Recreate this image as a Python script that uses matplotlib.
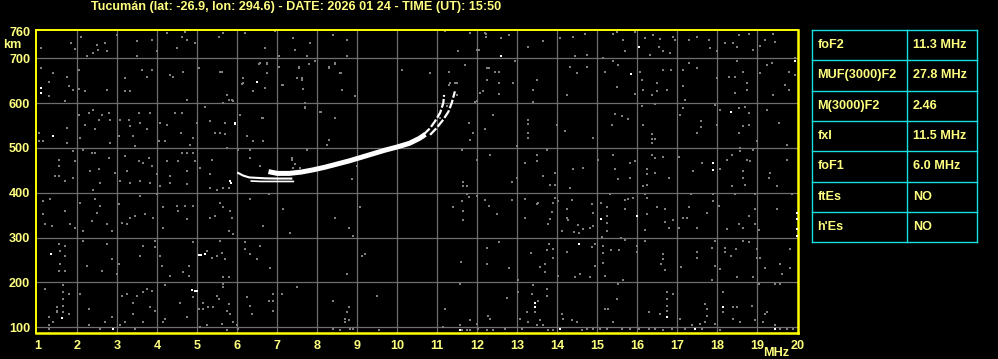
import numpy as np
import matplotlib
matplotlib.use("Agg")
import matplotlib.pyplot as plt

title = "Tucumán (lat: -26.9, lon: 294.6) - DATE: 2026 01 24 - TIME (UT): 15:50"
freq_ticks = list(range(1, 21))
height_ticks = [100, 200, 300, 400, 500, 600, 700, 760]

param_names = ["foF2", "MUF(3000)F2", "M(3000)F2", "fxI", "foF1", "ftEs", "h'Es"]
param_values = ["11.3 MHz", "27.8 MHz", "2.46", "11.5 MHz", "6.0 MHz", "NO", "NO"]

# F-layer traces (MHz, km)
o_main_f = [6.78, 7.0, 7.3, 7.6, 7.9, 8.2, 8.5, 8.8, 9.1, 9.4, 9.7, 10.0, 10.3, 10.55, 10.7]
o_main_h = [447, 443, 443, 446, 451, 457, 464, 471, 479, 487, 495, 502, 510, 521, 530]
o_tail_f = [10.65, 10.82, 10.94, 11.07, 11.15, 11.17]
o_tail_h = [529, 544, 559, 578, 600, 618]
x_tail_f = [10.82, 10.98, 11.15, 11.28, 11.36, 11.44]
x_tail_h = [529, 544, 563, 581, 600, 626]
o_low_f = [6.02, 6.15, 6.3, 6.5, 6.7, 7.0, 7.35]
o_low_h = [444, 438, 434, 433, 432, 431.5, 431.5]
x_low_f = [6.35, 6.6, 6.9, 7.2, 7.4]
x_low_h = [426, 425, 425, 425, 425]

noise_white = [
    (1.09, 633), (1.09, 622), (6.48, 648), (12.6, 704), (16.03, 726), (15.85, 665),
    (19.95, 693), (18.34, 580), (1.38, 526), (5.94, 554), (5.95, 555), (5.82, 426),
    (5.83, 422), (17.89, 467), (17.89, 450), (15.09, 342), (15.99, 348), (19.99, 355),
    (19.99, 341), (19.99, 318), (19.99, 304), (14.55, 285), (1.33, 263), (5.03, 261),
    (5.1, 260), (5.2, 263), (4.86, 184), (4.95, 181), (5.0, 181), (1.63, 121),
    (2.88, 96), (13.45, 155), (13.45, 144), (14.07, 96), (16.74, 122), (17.43, 96),
    (18.14, 144), (19.45, 96), (11.57, 93),
]

noise_grey = [
    (1.08, 722), (1.09, 678), (1.3, 648), (1.3, 616), (1.38, 667), (1.73, 658),
    (1.78, 638), (1.83, 735), (1.94, 720), (1.88, 630), (2.04, 674), (2.04, 631),
    (2.08, 748), (2.19, 626), (2.23, 704), (2.38, 711), (2.48, 730), (2.51, 718),
    (2.69, 735), (2.73, 715), (2.73, 630), (2.98, 752), (3.19, 655), (3.19, 626),
    (3.32, 626), (3.48, 739), (3.48, 704), (3.61, 674), (3.73, 659), (3.86, 741),
    (3.86, 674), (3.98, 715), (4.23, 756), (4.32, 663), (4.4, 659), (4.48, 722),
    (4.61, 748), (4.65, 670), (4.69, 759), (4.73, 741), (4.94, 733), (4.73, 607),
    (5.03, 678), (5.53, 748), (5.63, 756), (5.57, 670), (5.78, 607), (5.86, 607),
    (6.19, 757), (6.15, 655), (6.15, 645), (6.69, 722), (6.57, 689), (6.73, 689),
    (6.73, 667), (6.69, 633), (6.94, 761), (7.03, 704), (7.11, 641), (7.4, 744),
    (7.44, 718), (7.53, 678), (7.61, 655), (7.73, 704), (7.82, 735), (7.94, 693),
    (8.07, 581), (8.28, 678), (8.4, 752), (8.44, 689), (8.57, 667), (8.73, 741),
    (8.73, 704), (8.61, 630), (8.94, 615), (11.19, 761), (11.28, 670), (11.32, 644),
    (11.48, 644), (11.52, 715), (11.82, 756), (11.98, 718), (12.07, 622), (12.19, 756),
    (12.23, 652), (12.23, 678), (12.44, 670),
    (6.53, 687), (6.74, 687), (7.03, 681), (7.14, 641), (7.55, 680), (7.64, 631),
    (7.8, 687), (7.95, 693), (8.3, 680), (8.45, 687), (8.59, 667), (8.95, 615),
    (7.49, 655), (7.61, 652), (6.15, 655), (6.11, 643), (6.4, 626), (6.7, 633),
    (5.9, 604), (7.7, 600), (7.7, 589), (8.07, 581), (8.45, 567), (6.65, 567),
    (5.7, 555), (6.24, 526), (6.4, 515), (6.65, 515), (8.28, 518), (7.75, 496),
    (7.36, 478), (7.4, 455), (7.57, 455), (8.86, 430), (8.99, 459), (10.11, 674),
    (10.82, 667), (11.28, 670), (11.45, 644), (11.7, 685), (11.49, 618), (11.28, 641),
    (11.24, 593), (11.07, 567), (11.78, 555), (11.9, 533), (11.82, 518), (11.61, 496),
    (11.99, 474), (11.65, 415), (11.74, 396), (11.99, 604), (5.65, 600), (5.74, 618),
    (5.61, 670), (5.7, 530),
    (12.22, 755), (12.22, 748), (12.6, 744), (12.03, 718), (12.78, 752), (12.95, 693),
    (12.53, 670), (12.28, 678), (12.24, 652), (12.55, 644), (12.9, 644), (12.15, 626),
    (12.55, 620), (11.95, 602), (12.4, 574), (12.2, 541), (11.9, 533), (12.99, 504),
    (13.28, 726), (13.65, 738), (14.07, 746), (14.4, 748), (14.7, 755), (14.74, 707),
    (14.45, 704), (14.74, 681), (14.32, 681), (14.49, 667), (13.49, 652), (13.39, 630),
    (14.24, 617), (13.4, 602), (13.28, 563), (13.28, 554), (14.0, 552), (14.2, 537),
    (13.28, 533), (13.28, 522), (13.74, 496), (14.9, 522), (15.14, 701), (15.4, 753),
    (15.49, 759), (15.65, 741), (15.7, 716), (15.95, 758), (15.53, 685), (15.2, 670),
    (15.4, 693), (16.07, 670), (16.11, 652), (15.49, 635), (15.95, 621), (16.15, 630),
    (16.38, 619), (16.49, 644), (16.49, 626), (16.74, 630), (16.11, 594), (16.45, 598),
    (15.45, 576), (15.62, 570), (15.78, 565), (15.36, 552), (16.15, 552), (16.36, 530),
    (16.36, 519), (16.45, 519), (16.36, 511), (16.2, 744), (16.39, 752), (16.57, 743),
    (16.53, 726), (16.9, 748), (16.94, 741), (16.65, 715), (16.82, 711), (16.32, 707),
    (17.28, 741), (17.49, 748), (17.78, 741), (17.82, 722), (17.99, 715), (18.2, 733),
    (18.4, 733), (18.49, 726), (18.53, 752), (18.78, 755), (18.9, 718), (19.07, 728),
    (19.2, 741), (19.4, 755), (19.44, 737), (19.95, 700), (17.28, 689), (17.49, 679),
    (17.15, 673), (16.84, 673), (16.65, 674), (17.15, 637), (17.19, 607), (17.99, 656),
    (18.3, 657), (18.44, 657), (18.49, 693), (18.65, 670), (18.74, 644), (18.74, 630),
    (18.44, 622), (19.07, 667), (19.24, 685), (19.36, 689), (19.78, 670), (19.7, 641),
    (19.78, 630), (19.4, 617), (19.95, 663), (17.95, 596), (18.07, 585), (18.53, 590),
    (18.7, 592), (18.78, 578), (19.24, 585), (17.15, 590), (17.07, 574), (17.59, 559),
    (17.59, 546), (17.49, 533), (17.99, 552), (18.78, 552), (18.65, 548), (18.53, 533),
    (19.0, 515), (19.53, 555), (19.74, 507), (18.57, 500), (18.9, 496),
    (11.64, 424), (11.74, 415), (11.99, 474), (12.32, 483), (12.86, 424), (12.99, 433),
    (13.2, 467), (13.49, 483), (13.49, 470), (13.65, 438), (13.95, 443), (13.82, 418),
    (13.95, 418), (14.32, 411), (14.4, 452), (14.65, 455), (15.03, 474), (15.4, 485),
    (15.45, 452), (15.53, 430), (15.82, 467), (15.95, 470), (15.82, 433), (16.24, 452),
    (16.24, 441), (16.45, 444), (16.36, 485), (16.45, 478), (16.65, 480), (16.78, 433),
    (17.03, 480), (16.24, 418), (16.15, 415), (17.4, 448), (17.61, 467), (18.07, 452),
    (18.24, 474), (18.36, 483), (18.57, 493), (18.74, 474), (18.82, 470), (18.65, 448),
    (18.65, 433), (18.7, 418), (18.36, 415), (19.32, 443), (19.28, 433), (19.49, 415),
    (19.74, 474), (11.4, 367), (11.61, 381), (11.65, 359), (11.65, 339), (11.8, 391),
    (11.99, 392), (12.2, 384), (12.3, 370), (12.5, 352), (12.86, 384), (13.2, 385),
    (13.2, 344), (13.49, 374), (13.53, 378), (13.9, 378), (13.86, 357), (13.82, 341),
    (13.78, 330), (13.95, 389), (14.03, 381), (14.24, 364), (14.24, 344), (14.28, 339),
    (14.11, 315), (14.42, 312), (14.53, 327), (14.55, 311), (14.65, 318), (14.36, 384),
    (14.82, 321), (14.89, 355), (14.86, 374), (14.9, 326), (15.09, 378), (15.24, 367),
    (15.24, 348), (15.24, 333), (15.24, 315), (15.11, 302), (15.32, 396), (15.7, 384),
    (15.78, 385), (15.7, 363), (15.89, 389), (16.24, 389), (16.2, 396), (16.24, 352),
    (16.2, 317), (16.49, 367), (16.7, 363), (16.7, 335), (16.78, 321), (16.9, 339),
    (17.03, 321), (17.15, 344), (17.24, 344), (17.28, 367), (17.34, 396), (17.49, 321),
    (17.74, 355), (17.89, 381), (17.89, 396), (18.03, 370), (18.24, 318), (18.45, 396),
    (18.53, 330), (18.65, 321), (18.78, 348), (18.95, 363), (18.95, 330), (19.03, 317),
    (18.95, 396), (19.49, 364), (19.86, 396),
    (12.24, 276), (12.53, 290), (11.59, 246), (12.24, 241), (12.78, 233), (13.03, 206),
    (13.34, 265), (13.57, 235), (13.7, 222), (13.7, 241), (13.74, 273), (13.9, 274),
    (13.9, 255), (13.8, 285), (14.03, 215), (14.24, 268), (14.45, 211), (14.57, 218),
    (14.82, 211), (14.95, 285), (14.95, 237), (14.86, 278), (15.14, 281), (15.14, 265),
    (15.14, 244), (15.2, 215), (15.34, 273), (15.55, 273), (15.65, 206), (15.59, 298),
    (15.7, 295), (15.99, 280), (15.99, 268), (16.2, 292), (16.65, 263), (16.65, 252),
    (16.7, 228), (16.6, 241), (17.09, 235), (17.49, 267), (17.49, 255), (17.86, 276),
    (17.95, 237), (17.95, 293), (18.07, 230), (18.2, 276), (18.2, 268), (18.34, 259),
    (18.47, 274), (18.65, 293), (18.78, 290), (18.99, 274), (18.99, 255), (19.07, 255),
    (19.2, 233), (19.57, 241), (19.61, 218), (19.82, 274), (19.82, 233), (18.9, 211),
    (18.49, 213), (17.86, 206),
    (1.69, 604), (2.03, 574), (2.28, 578), (2.4, 585), (2.53, 563), (2.61, 574),
    (2.78, 578), (2.82, 563), (2.19, 552), (1.73, 544), (1.03, 533), (1.03, 515),
    (1.15, 515), (1.73, 511), (2.07, 522), (2.44, 541), (2.82, 511), (3.07, 563),
    (3.28, 563), (3.32, 548), (3.53, 578), (3.57, 555), (3.82, 578), (3.73, 541),
    (3.4, 526), (3.03, 526), (4.03, 515), (4.19, 515), (4.07, 555), (4.23, 552),
    (4.44, 578), (4.61, 578), (4.59, 533), (4.9, 522), (4.82, 507), (4.98, 555),
    (5.19, 592), (5.32, 559), (5.44, 533), (5.57, 533), (5.69, 555), (6.07, 574),
    (6.23, 526), (6.4, 515), (6.61, 567), (7.69, 592), (8.09, 581), (8.44, 567),
    (8.23, 506), (7.73, 496), (1.9, 492), (1.94, 470), (2.15, 496), (2.36, 489),
    (2.44, 489), (2.32, 448), (2.53, 452), (2.78, 478), (2.94, 444), (1.53, 474),
    (1.53, 459), (1.53, 437), (1.44, 437), (1.69, 426), (1.9, 433), (2.4, 407),
    (2.57, 422), (3.07, 426), (3.23, 448), (3.19, 481), (3.44, 504), (3.53, 470),
    (3.65, 467), (3.78, 478), (3.86, 459), (3.32, 422), (3.57, 426), (3.82, 422),
    (3.98, 441), (4.07, 415), (4.23, 470), (4.32, 437), (4.32, 422), (4.52, 470),
    (4.61, 489), (4.73, 489), (4.9, 489), (4.94, 470), (4.73, 448), (4.73, 419),
    (5.07, 455), (5.32, 441), (5.36, 474), (5.32, 411), (5.49, 407), (5.65, 411),
    (5.78, 411), (5.73, 500), (6.02, 496), (6.32, 496), (6.57, 459), (6.32, 478),
    (7.36, 474), (7.44, 463), (8.86, 430),
    (1.15, 381), (1.32, 385), (1.15, 352), (1.19, 330), (1.36, 326), (1.69, 359),
    (1.82, 330), (1.94, 322), (2.07, 378), (2.15, 315), (2.36, 337), (2.44, 385),
    (2.48, 355), (2.57, 370), (2.73, 330), (2.86, 315), (3.03, 374), (3.11, 333),
    (3.23, 330), (3.32, 344), (3.44, 348), (3.57, 392), (3.69, 352), (3.9, 344),
    (3.98, 396), (4.15, 367), (4.15, 322), (4.48, 370), (4.52, 359), (4.69, 370),
    (4.73, 341), (4.9, 370), (5.32, 344), (5.44, 348), (5.57, 378), (5.65, 367),
    (5.82, 359), (5.86, 344), (5.78, 315), (5.9, 307), (6.32, 385), (6.65, 326),
    (6.78, 396), (7.15, 363), (7.32, 311), (8.44, 344), (8.78, 322), (9.07, 367),
    (8.9, 304),
    (1.53, 285), (1.57, 270), (1.69, 281), (1.69, 259), (1.57, 241), (1.69, 226),
    (1.53, 226), (2.15, 292), (2.23, 237), (2.61, 226), (2.73, 285), (2.86, 252),
    (3.03, 241), (2.98, 218), (3.65, 281), (3.57, 259), (3.94, 292), (3.94, 278),
    (4.07, 259), (4.11, 237), (4.32, 215), (4.65, 222), (4.78, 215), (4.9, 289),
    (4.78, 237), (5.23, 270), (5.49, 259), (5.57, 292), (5.61, 266), (5.69, 252),
    (5.36, 255), (5.65, 211), (5.78, 211), (6.19, 289), (6.19, 274), (6.32, 263),
    (6.57, 281), (6.49, 252), (6.82, 233), (7.48, 189), (8.74, 218), (9.11, 259),
    (9.19, 263),
    (1.19, 185), (1.48, 144), (1.48, 137), (1.48, 133), (1.65, 193), (1.65, 178),
    (1.65, 163), (1.65, 148), (1.65, 133), (1.78, 174), (1.78, 130), (2.07, 174),
    (2.28, 141), (2.28, 104), (1.3, 122), (1.28, 104), (1.28, 96), (1.4, 111),
    (2.69, 111), (2.57, 96), (2.86, 122), (3.07, 104), (3.19, 111), (3.11, 170),
    (3.23, 174), (3.4, 155), (3.48, 170), (3.65, 178), (3.73, 185), (3.86, 181),
    (3.44, 96), (3.65, 111), (3.4, 130), (3.94, 137), (3.82, 144), (4.19, 193),
    (4.15, 111), (4.19, 118), (4.57, 155), (4.73, 122), (4.9, 167), (5.03, 141),
    (5.15, 155), (5.15, 141), (5.27, 144), (5.4, 144), (5.48, 170), (5.53, 163),
    (5.65, 196), (5.65, 189), (5.78, 152), (5.73, 137), (5.82, 130), (5.61, 107),
    (5.9, 111), (5.98, 104), (5.07, 100), (5.23, 104), (5.73, 93), (6.02, 96),
    (6.23, 167), (6.32, 148), (6.36, 130), (6.78, 159), (6.9, 174), (6.9, 159),
    (6.9, 137), (7.11, 174), (7.48, 189), (8.4, 159), (8.4, 96), (8.57, 93),
    (8.73, 133), (8.69, 118), (8.78, 144), (8.78, 115), (8.69, 111), (8.82, 96),
    (8.9, 96), (9.48, 170), (9.53, 93), (11.15, 100), (11.19, 141), (11.57, 196),
    (11.57, 104), (11.61, 93), (11.73, 93), (11.82, 115), (11.82, 93), (11.98, 107),
    (12.02, 96), (12.27, 126), (12.32, 118), (12.23, 93), (12.4, 93),
    (12.74, 164), (12.7, 96), (13.03, 178), (13.07, 118), (13.11, 96), (13.4, 193),
    (13.36, 174), (13.45, 133), (13.53, 159), (13.57, 115), (13.65, 104), (13.74, 185),
    (13.74, 170), (13.78, 93), (13.49, 104), (13.28, 111), (13.24, 133), (13.9, 93),
    (14.11, 130), (14.15, 118), (14.36, 115), (14.49, 111), (14.61, 93), (14.74, 96),
    (14.9, 96), (15.07, 96), (15.24, 96), (15.2, 141), (15.28, 141), (15.49, 163),
    (15.4, 111), (15.53, 196), (15.61, 96), (15.82, 96), (16.03, 96), (16.28, 133),
    (16.28, 96), (16.45, 96), (16.57, 130), (16.65, 93), (16.74, 178), (16.74, 163),
    (16.74, 148), (16.74, 137), (16.86, 96), (16.9, 174), (17.07, 118), (17.2, 96),
    (17.36, 104), (17.61, 96), (17.7, 152), (17.74, 141), (17.74, 126), (17.7, 111),
    (17.57, 107), (17.95, 107), (18.07, 93), (18.14, 178), (18.14, 133), (18.4, 144),
    (18.49, 144), (18.4, 118), (18.57, 111), (18.86, 148), (18.95, 115), (19.03, 196),
    (19.15, 111), (19.2, 130), (19.24, 133), (19.45, 196), (19.45, 104), (19.57, 196),
    (19.57, 96), (19.74, 96), (19.9, 96),
]

fig = plt.figure(figsize=(9.98, 3.59), dpi=100, facecolor="black")
ax = fig.add_axes([35.7 / 998, 26 / 359, 762 / 998, 303.5 / 359], facecolor="black")

txt_color = "#ffff80"
font = "Liberation Sans"
fsize = 9.1

ax.set_xlim(0.96, 20.01)
ax.set_ylim(87, 764)
ax.set_xticks(freq_ticks)
ax.set_yticks(height_ticks)
ax.set_xticklabels([str(t) for t in freq_ticks])
ax.set_yticklabels([str(t) for t in height_ticks])
for lab in ax.get_xticklabels() + ax.get_yticklabels():
    lab.set_fontfamily(font)
    lab.set_fontweight("bold")
    lab.set_fontsize(fsize)
    lab.set_color(txt_color)
ax.tick_params(length=0)
ax.tick_params(axis="x", pad=5)
ax.tick_params(axis="y", pad=4)

for t in freq_ticks[1:-1]:
    ax.axvline(t, color="#6e6e6e", lw=0.9, zorder=1)
for t in height_ticks[:-1]:
    ax.axhline(t, color="#6e6e6e", lw=0.9, zorder=1)

for sp in ax.spines.values():
    sp.set_color("#ffff00")
    sp.set_linewidth(1.4)
ax.spines["right"].set_linewidth(1.8)
ax.spines["bottom"].set_linewidth(1.8)

gf, gh = zip(*noise_grey)
ax.scatter(gf, gh, marker="s", s=4, color="#7f7f7f", linewidths=0, zorder=2)
wf, wh = zip(*noise_white)
ax.scatter(wf, wh, marker="s", s=4, color="white", linewidths=0, zorder=3)

ax.plot(o_main_f, o_main_h, color="white", lw=3.6, solid_capstyle="butt", zorder=4)
ax.plot(o_tail_f, o_tail_h, color="white", lw=1.6, dashes=(4, 1), zorder=4)
ax.plot(x_tail_f, x_tail_h, color="white", lw=1.6, dashes=(4, 1), zorder=4)
ax.plot(o_low_f, o_low_h, color="white", lw=1.5, zorder=4)
ax.plot(x_low_f, x_low_h, color="white", lw=1.2, zorder=4)

fig.text(91 / 998, 1 - 7 / 359, title, color=txt_color, fontfamily=font,
         fontweight="bold", fontsize=fsize, ha="left", va="center")
fig.text(21 / 998, 1 - 45 / 359, "km", color=txt_color, fontfamily=font,
         fontweight="bold", fontsize=fsize, ha="right", va="center")
fig.text(789 / 998, 1 - 352.5 / 359, "MHz", color=txt_color, fontfamily=font,
         fontweight="bold", fontsize=fsize, ha="right", va="center")

# parameter table
tab = fig.add_axes([812.3 / 998, 1 - 242.3 / 359, 165 / 998, 212.3 / 359], facecolor="black")
tab.set_xlim(0, 1)
tab.set_ylim(len(param_names), 0)
tab.axis("off")
cyan = "#19e0e0"
split = 0.576
for i in range(len(param_names) + 1):
    tab.plot([0, 1], [i, i], color=cyan, lw=1.0, clip_on=False)
for xv in [0, split, 1]:
    tab.plot([xv, xv], [0, len(param_names)], color=cyan, lw=1.0, clip_on=False)
for i, (name, val) in enumerate(zip(param_names, param_values)):
    tab.text(0.03, i + 0.5, name, color=txt_color, fontfamily=font, fontweight="bold",
             fontsize=fsize, ha="left", va="center")
    tab.text(split + 0.035, i + 0.5, val, color=txt_color, fontfamily=font,
             fontweight="bold", fontsize=fsize, ha="left", va="center")

fig.savefig("out.png", dpi=100, facecolor="black")
